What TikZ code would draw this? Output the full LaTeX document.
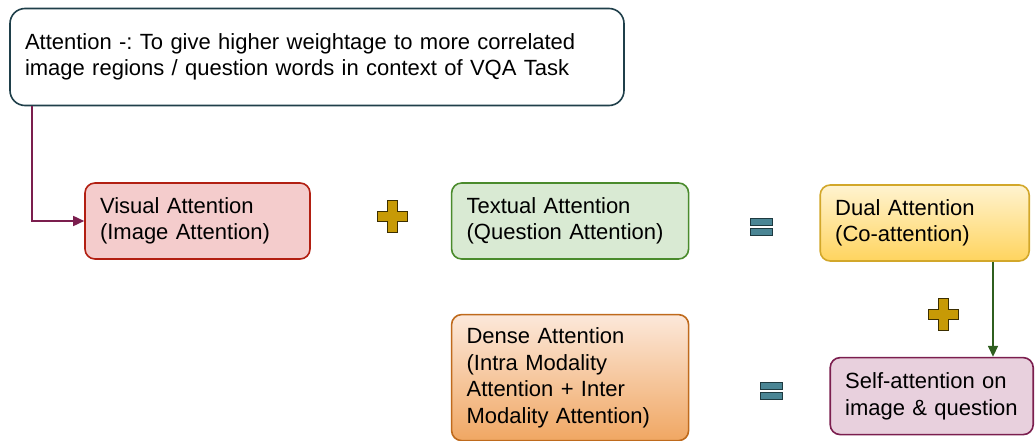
\documentclass[tikz,border=0pt]{standalone}
\usepackage{fontspec}
\setmainfont{Liberation Sans}
\usepackage{xcolor}
\usetikzlibrary{arrows.meta, positioning, calc}

\definecolor{topline}{HTML}{1F3F4A}
\definecolor{visfill}{HTML}{F4CCCC}
\definecolor{visline}{HTML}{B21F12}
\definecolor{txtfill}{HTML}{D9EAD3}
\definecolor{txtline}{HTML}{4A8B2C}
\definecolor{dualtop}{HTML}{FFF3D0}
\definecolor{dualbot}{HTML}{FFD45E}
\definecolor{dualline}{HTML}{D2A72A}
\definecolor{densetop}{HTML}{FCE8DA}
\definecolor{densebot}{HTML}{F0A763}
\definecolor{denseline}{HTML}{BF6A1C}
\definecolor{selffill}{HTML}{E8D0DD}
\definecolor{selfline}{HTML}{7B1E4E}
\definecolor{linkred}{HTML}{7B1E4E}
\definecolor{linkgreen}{HTML}{2F5F1F}
\definecolor{plusfill}{HTML}{C79A06}
\definecolor{plusline}{HTML}{3B2E00}
\definecolor{eqfill}{HTML}{4A8594}
\definecolor{eqline}{HTML}{1E3A40}

\frenchspacing

\begin{document}
\begin{tikzpicture}[
	  x=1pt, y=-1pt,
	  font=\fontsize{22}{26.5}\selectfont,
	  box/.style={
	    draw,
	    line width=1.6pt,
	    rounded corners=10pt,
	    align=left,
	    inner xsep=15pt,
	    inner ysep=0pt
	  },
	  notebox/.style={box,draw=topline,fill=white,rounded corners=15pt},
	  visbox/.style={box,draw=visline,fill=visfill},
	  txtbox/.style={box,draw=txtline,fill=txtfill},
	  dualbox/.style={box,draw=dualline,top color=dualtop,bottom color=dualbot},
	  densebox/.style={box,draw=denseline,top color=densetop,bottom color=densebot},
	  selfbox/.style={box,draw=selfline,fill=selffill},
	  plusop/.style={
	    minimum width=36pt, minimum height=38pt, inner sep=0pt,
	    path picture={
	      \draw[shift={(path picture bounding box.center)}, fill=plusfill, draw=plusline, line width=1pt]
	        (-5,-16) -- (5,-16) -- (5,-5) -- (15,-5) -- (15,5) -- (5,5) -- (5,16)
	        -- (-5,16) -- (-5,5) -- (-15,5) -- (-15,-5) -- (-5,-5) -- cycle;
	    }
	  },
	  eqop/.style={
	    minimum width=28pt, minimum height=24pt, inner sep=0pt,
	    path picture={
	      \draw[shift={(path picture bounding box.center)}, fill=eqfill, draw=eqline, line width=0.9pt]
	        (-11,-8.5) rectangle (11,-1.5)
	        (-11,1.5) rectangle (11,8.5);
	    }
	  },
	  arrow/.style={-{Triangle[length=11pt,width=10pt]},line width=1.6pt}
	]
	
	\useasboundingbox (0,0) rectangle (1035,441);
	
	% Definition box
	\node[notebox, text width=584pt, minimum height=97pt] (note) at (317,57)
	  {Attention -: To give higher weightage to more correlated\\image regions / question words in context of VQA Task};
	
	% Top row
	\node[visbox, text width=195pt, minimum height=76pt] (visual) at (197.5,221)
	  {Visual Attention\\(Image Attention)};
	\node[txtbox, text width=207pt, minimum height=76pt, right=140pt of visual] (textual)
	  {Textual Attention\\(Question Attention)};
	\node[dualbox, text width=179pt, minimum height=76pt, right=130pt of textual, yshift=-2pt] (dual)
	  {Dual Attention\\(Co-attention)};
	
	% Bottom row
	\node[selfbox, text width=173pt, minimum height=77pt, below=95pt of dual, xshift=7pt] (selfatt)
	  {Self-attention on\\image \& question};
	\node[densebox, text width=207pt, minimum height=126pt, below=54pt of textual] (dense)
	  {Dense Attention\\(Intra Modality\\Attention + Inter\\Modality Attention)};
	
	% Operators
	\node[plusop] (plusA) at (392,216) {};
	\node[eqop] (eqA) at (761,227) {};
	\node[plusop] (plusB) at (943,314) {};
	\node[eqop] (eqB) at (771,391) {};
	
	% Links
	\coordinate (gx) at (993,0);
	\draw[arrow, draw=linkred] ($(note.south west)+(23,0)$) |- (visual.west);
	\draw[arrow, draw=linkgreen] (dual.south -| gx) -- (selfatt.north -| gx);
	
	\end{tikzpicture}
\end{document}
